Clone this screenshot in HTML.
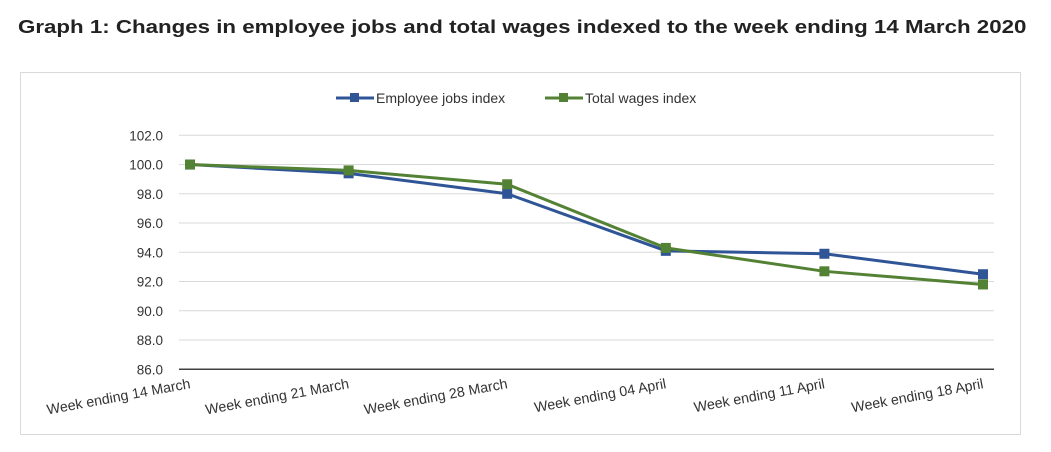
<!DOCTYPE html>
<html><head><meta charset="utf-8"><style>
body{margin:0;background:#fff;width:1051px;height:452px;overflow:hidden;font-family:"Liberation Sans",sans-serif;}
h1{position:absolute;left:18px;top:16px;margin:0;font-size:18.5px;font-weight:bold;color:#222;white-space:nowrap;transform:scaleX(1.205);transform-origin:0 0;}
svg{position:absolute;left:0;top:0;}
</style></head><body>
<h1>Graph 1: Changes in employee jobs and total wages indexed to the week ending 14 March 2020</h1>
<svg width="1051" height="452">
<rect x="20.5" y="72.5" width="1000" height="362" fill="#fff" stroke="#d9d9d9"/>
<g id="grid"></g><g id="series"></g><g id="labels"></g>
<g font-size="14" fill="#333">
<g><line x1="336" y1="98" x2="374" y2="98" stroke="#2f5597" stroke-width="3"/><rect x="350" y="93" width="9" height="9" fill="#2f5597"/><text x="376" y="103">Employee jobs index</text></g>
<g><line x1="545" y1="98" x2="583" y2="98" stroke="#548235" stroke-width="3"/><rect x="559" y="93" width="9" height="9" fill="#548235"/><text x="585" y="103">Total wages index</text></g>
</g>
</svg>
<script>
const categories=["Week ending 14 March","Week ending 21 March","Week ending 28 March","Week ending 04 April","Week ending 11 April","Week ending 18 April"];
const employeeJobs=[100.0,99.4,98.0,94.1,93.9,92.5];
const totalWages=[100.0,99.6,98.65,94.3,92.7,91.8];
const yTicks=[86,88,90,92,94,96,98,100,102];
const NS="http://www.w3.org/2000/svg";
const yMin=86,yMax=102,yTop=135.3,yBot=369.3,x0=190,x1=983,gx0=179,gx1=994;
const ys=v=>yBot-(v-yMin)/(yMax-yMin)*(yBot-yTop);
const xs=i=>x0+i*(x1-x0)/(categories.length-1);
function mk(tag,attrs,parent){const e=document.createElementNS(NS,tag);for(const k in attrs)e.setAttribute(k,attrs[k]);parent.appendChild(e);return e;}
const grid=document.getElementById('grid'),ser=document.getElementById('series'),lab=document.getElementById('labels');
yTicks.forEach(t=>{
 const y=ys(t);
 const l=mk('line',{x1:gx0,x2:gx1,y1:y,y2:y,stroke:t===yMin?'#404040':'#d9d9d9','stroke-width':t===yMin?1.5:1},grid);
 
 
 const tx=mk('text',{x:163,y:y+5,'text-anchor':'end','font-size':13.5,fill:'#333'},grid);
 tx.textContent=t.toFixed(1);
 
 
});
categories.forEach((c,i)=>{
 const x=xs(i);
 const tx=mk('text',{x:x+1,y:388,'text-anchor':'end','font-size':14.2,fill:'#333',transform:`rotate(-10.5 ${x+1} 388)`},lab);
 tx.textContent=c;
 
 
});
function draw(vals,color,name){
 const p=mk('polyline',{points:vals.map((v,i)=>xs(i)+','+ys(v)).join(' '),fill:'none',stroke:color,'stroke-width':3,'stroke-linejoin':'round'},ser);
 
 
 vals.forEach((v,i)=>{
  const r=mk('rect',{x:xs(i)-5,y:ys(v)-5,width:10,height:10,fill:color},ser);
  
  
 });
}
draw(employeeJobs,'#2f5597','employee-jobs');
draw(totalWages,'#548235','total-wages');
</script>
</body></html>
